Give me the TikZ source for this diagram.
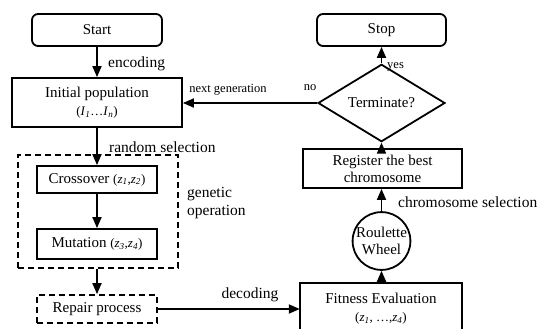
\documentclass[tikz,border=0pt]{standalone}
\usepackage{fontspec}
\setmainfont{Liberation Serif}
\usetikzlibrary{arrows.meta,shapes.geometric}
\newcommand\boxfont{\fontsize{15}{17}\selectfont}
\newcommand\lblfont{\fontsize{15.5}{18}\selectfont}
\newcommand\smlfont{\fontsize{12.5}{14}\selectfont}
\newcommand\varfont{\fontsize{13}{15}\selectfont}
\begin{document}
\begin{tikzpicture}[x=1pt,y=-1pt,
  pbox/.style={draw,line width=1.8pt,rectangle,inner sep=0pt,align=center,font=\boxfont},
  dbox/.style={pbox,dash pattern=on 6pt off 4pt},
  rbox/.style={pbox,rounded corners=6pt},
  arr/.style={line width=1.8pt,-{Triangle[length=11pt,width=9pt]}},
  lbl/.style={inner sep=0pt,font=\lblfont},
  slbl/.style={inner sep=0pt,font=\smlfont}]
\useasboundingbox (0,0) rectangle (541,329);

% left column
\node[rbox,minimum width=130pt,minimum height=32pt] (start) at (97,30) {Start};
\node[pbox,minimum width=170pt,minimum height=49pt] (init) at (97,102.5)
  {Initial population\\[1pt] {\varfont(\textit{I}\textsubscript{\textit{1}}\ldots\textit{I}\textsubscript{\textit{n}})}};
\node[dbox,minimum width=160pt,minimum height=113pt] (group) at (98,211.5) {};
\node[pbox,minimum width=120pt,minimum height=27pt] (cross) at (97,179.5)
  {Crossover {\varfont(\textit{z}\textsubscript{\textit{1}},\textit{z}\textsubscript{\textit{2}})}};
\node[pbox,minimum width=120pt,minimum height=30pt] (mut) at (97,244)
  {Mutation {\varfont(\textit{z}\textsubscript{\textit{3}},\textit{z}\textsubscript{\textit{4}})}};
\node[dbox,minimum width=120pt,minimum height=28pt] (repair) at (97,309) {Repair process};

% right column
\node[rbox,minimum width=129pt,minimum height=32pt] (stop) at (381.5,30) {Stop};
\node[draw,line width=1.8pt,diamond,inner sep=0pt,minimum width=127pt,minimum height=48pt,font=\boxfont] (term) at (381.5,103) {Terminate?};
\node[pbox,minimum width=159pt,minimum height=39pt] (reg) at (382.5,168.5) {Register the best\\chromosome};
\node[draw,line width=1.8pt,circle,inner sep=0pt,minimum size=57pt,align=center,font=\boxfont] (wheel) at (381.5,241) {Roulette\\Wheel};
\node[inner sep=0pt,minimum width=162pt,minimum height=52pt,align=center,font=\boxfont] (fit) at (381,309)
  {Fitness Evaluation\\[1pt] {\varfont(\textit{z}\textsubscript{\textit{1}}, \ldots,\textit{z}\textsubscript{\textit{4}})}};
\draw[line width=1.8pt] (fit.south west) -- (fit.north west) -- (fit.north east) -- (fit.south east);

% connectors
\draw[arr] (start) -- (init);
\draw[arr] (init) -- (cross);
\draw[arr] (cross) -- (mut);
\draw[arr] (group.south -| repair.north) -- (repair.north);
\draw[arr] (repair.east) -- (fit.west);
\draw[arr] (fit.north -| wheel.south) -- (wheel.south);
\draw[arr] (wheel.north) -- (reg.south -| wheel.north);
\draw[arr] (reg.north -| term.south) -- (term.south);
\draw[arr] (term.north) -- (stop.south);
\draw[arr] (term.west) -- (term.west -| init.east);

% labels
\node[lbl,anchor=west] (lenc) at (108,64) {encoding};
\node[lbl,anchor=west] (lrand) at (109,147) {random selection};
\node[lbl,anchor=north west,align=left] (lgen) at (187,187) {genetic\\operation};
\node[lbl,anchor=west] (lchr) at (398,202) {chromosome selection};
\node[lbl] (ldec) at (250,295) {decoding};
\node[slbl] (lnext) at (228,90) {next generation};
\node[slbl] (lno) at (310,88) {no};
\node[slbl,anchor=west] (lyes) at (387,67) {yes};
\end{tikzpicture}
\end{document}
